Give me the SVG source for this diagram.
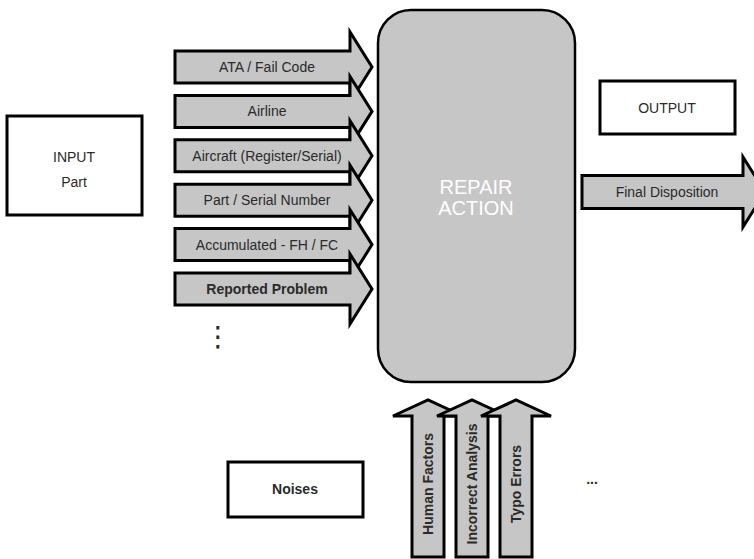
<svg xmlns="http://www.w3.org/2000/svg" xmlns:xlink="http://www.w3.org/1999/xlink" width="754" height="559" viewBox="0 0 754 559">
<style>
  .arrow { fill: #c6c6c6; stroke: #000; stroke-width: 3; stroke-linejoin: miter; }
  .box { fill: #fff; stroke: #000; stroke-width: 3; }
  .lbl { font-family: "Liberation Sans", Arial, sans-serif; font-size: 14px; fill: #2a2a2a; text-anchor: middle; dominant-baseline: central; }
  .bold { font-weight: bold; }
  .big { font-family: "Liberation Sans", Arial, sans-serif; font-size: 20px; fill: #fff; text-anchor: middle; }
</style>
<defs>
  <path id="harrow" class="arrow" d="M175,-16 H350 V-35 L372,0 L350,35 V16 H175 Z"/>
  <path id="varrow" class="arrow" d="M-16,557 V416 H-35 L0,400 L35,416 H16 V557 Z"/>
</defs>
<rect width="754" height="559" fill="#fff"/>

<g id="input">
  <rect class="box" x="7" y="116" width="135" height="99"/>
  <text class="lbl" x="74" y="157" font-size="13">INPUT</text>
  <text class="lbl" x="74" y="182" font-size="13">Part</text>
</g>

<g id="repair-action">
  <rect x="378" y="10" width="197" height="372" rx="33" ry="33" fill="#c6c6c6" stroke="#000" stroke-width="2.5"/>
  <text class="big" x="476" y="194">REPAIR</text>
  <text class="big" x="476" y="215">ACTION</text>
</g>

<g id="output">
  <rect class="box" x="600" y="81" width="135" height="53"/>
  <text class="lbl" x="667" y="108" font-size="13">OUTPUT</text>
</g>

<g id="noises">
  <rect class="box" x="228" y="462" width="135" height="55"/>
  <text class="lbl bold" x="295" y="489" font-size="13.5">Noises</text>
</g>

<g id="connectors">
  <g id="in-ata"><use xlink:href="#harrow" href="#harrow" y="67"/><text class="lbl" x="267" y="67">ATA / Fail Code</text></g>
  <g id="in-airline"><use xlink:href="#harrow" href="#harrow" y="111.4"/><text class="lbl" x="267" y="111.4">Airline</text></g>
  <g id="in-aircraft"><use xlink:href="#harrow" href="#harrow" y="155.8"/><text class="lbl" x="267" y="155.8">Aircraft (Register/Serial)</text></g>
  <g id="in-part"><use xlink:href="#harrow" href="#harrow" y="200.2"/><text class="lbl" x="267" y="200.2">Part / Serial Number</text></g>
  <g id="in-accum"><use xlink:href="#harrow" href="#harrow" y="244.6"/><text class="lbl" x="267" y="244.6">Accumulated - FH / FC</text></g>
  <g id="in-reported"><use xlink:href="#harrow" href="#harrow" y="289"/><text class="lbl bold" x="267" y="289">Reported Problem</text></g>

  <g id="out-final">
    <path class="arrow" d="M582,175.5 H743 V157 L765,192 L743,227 V208.5 H582 Z"/>
    <text class="lbl" x="667" y="192">Final Disposition</text>
  </g>

  <g id="noise-human"><use xlink:href="#varrow" href="#varrow" x="428"/><text class="lbl bold" transform="translate(428,484) rotate(-90)">Human Factors</text></g>
  <g id="noise-incorrect"><use xlink:href="#varrow" href="#varrow" x="472"/><text class="lbl bold" transform="translate(472,484) rotate(-90)">Incorrect Analysis</text></g>
  <g id="noise-typo"><use xlink:href="#varrow" href="#varrow" x="516"/><text class="lbl bold" transform="translate(516,484) rotate(-90)">Typo Errors</text></g>
</g>

<text x="218" y="346" font-family="DejaVu Sans, sans-serif" font-size="28" fill="#2a2a2a" text-anchor="middle">⋮</text>
<text class="lbl bold" x="592" y="479">...</text>
</svg>
